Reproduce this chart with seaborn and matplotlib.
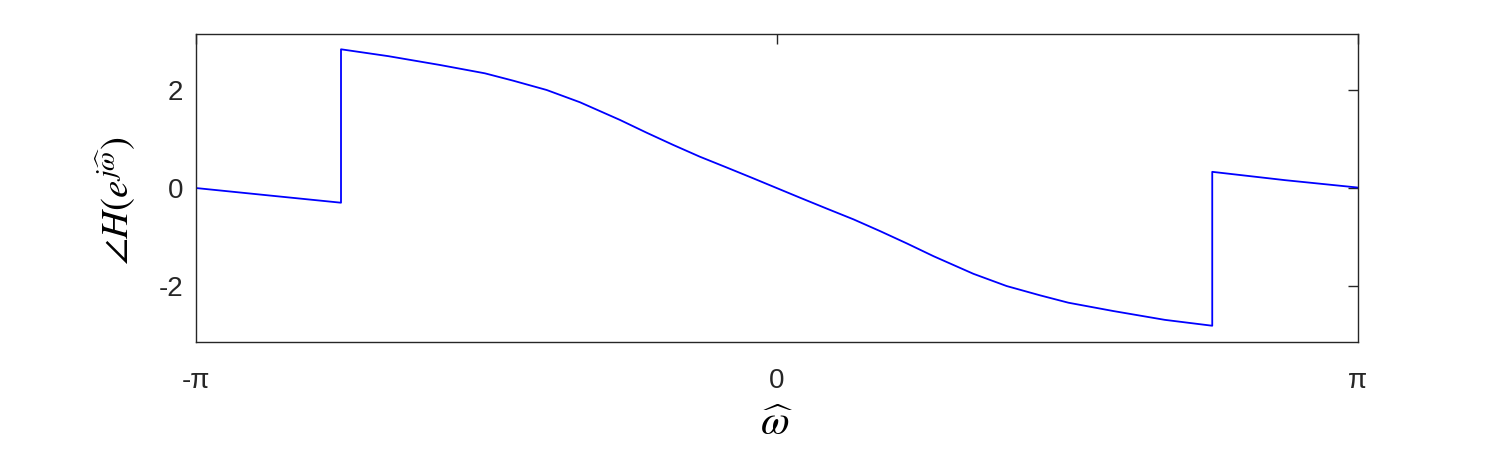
import numpy as np
import pandas as pd
import matplotlib
matplotlib.use("Agg")
import matplotlib.pyplot as plt
import seaborn as sns

# frequency samples (rad/sample) and phase values (rad)
omega = [-3.1416, -2.75, -2.356, -2.356, -2.10, -1.821, -1.578, -1.425,
         -1.244, -1.064, -0.848, -0.704, -0.560, -0.416, -0.271, -0.128,
         0.0,
         0.128, 0.271, 0.416, 0.560, 0.704, 0.848, 1.064, 1.244,
         1.425, 1.578, 1.821, 2.10, 2.356, 2.356, 2.75, 3.1416]
phase = [0.00, -0.15, -0.30, 2.83, 2.69, 2.51, 2.34, 2.19,
         2.00, 1.75, 1.39, 1.13, 0.88, 0.64, 0.42, 0.20,
         0.00,
         -0.20, -0.42, -0.64, -0.88, -1.13, -1.39, -1.75, -2.00,
         -2.19, -2.34, -2.51, -2.69, -2.81, 0.33, 0.16, 0.01]

xtick_vals = [-np.pi, 0, np.pi]
xtick_labels = ["-π", "0", "π"]
ytick_vals = [-2, 0, 2]
ytick_labels = ["-2", "0", "2"]

sns.set_theme(style="white")
plt.rcParams['font.family'] = ['Liberation Sans', 'DejaVu Sans']
plt.rcParams['mathtext.fontset'] = 'stix'

df = pd.DataFrame({"omega": omega, "phase": phase})

fig = plt.figure(figsize=(15, 4.5), dpi=100)
ax = fig.add_axes([0.1305, 0.24, 0.7745, 0.6844])

sns.lineplot(data=df, x="omega", y="phase", sort=False, estimator=None,
             color=(0, 0, 1), linewidth=1.3, ax=ax)

ax.set_xlim(-np.pi, np.pi)
ax.set_ylim(-np.pi, np.pi)
ax.set_xticks(xtick_vals)
ax.set_xticklabels(xtick_labels)
ax.set_yticks(ytick_vals)
ax.set_yticklabels(ytick_labels)

edge = '#262626'
for s in ax.spines.values():
    s.set_visible(True)
    s.set_color(edge)
    s.set_linewidth(1.0)

ax.tick_params(axis='both', which='major', direction='in', length=7, width=1.0,
               color=edge, labelcolor='#262626', labelsize=20,
               top=True, right=True)
ax.tick_params(axis='x', pad=19)
ax.tick_params(axis='y', pad=9)

ax.set_xlabel(r'$\widehat{\omega}$', fontsize=30, color='black')
ax.xaxis.set_label_coords(0.5, -0.20)
ax.set_ylabel(r'$\angle H\left(e^{j\widehat{\omega}}\right)$', fontsize=28, color='black')
ax.yaxis.set_label_coords(-0.05, 0.458)

fig.savefig("out.png", dpi=100)
